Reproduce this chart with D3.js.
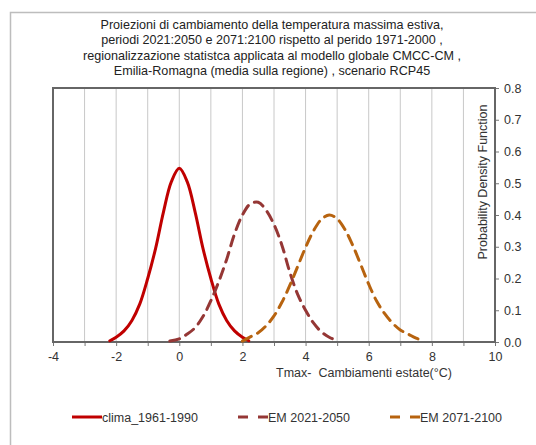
<!DOCTYPE html>
<html><head><meta charset="utf-8">
<script src="https://cdn.jsdelivr.net/npm/d3@7/dist/d3.min.js"></script>
<style>body{margin:0;background:#fff}svg{display:block;font-family:"Liberation Sans",Arial,sans-serif}</style>
</head><body><svg id="c" width="536" height="445"></svg>
<script>
const titleLines = [
  "Proiezioni di cambiamento della temperatura massima estiva,",
  "periodi 2021:2050 e 2071:2100 rispetto al perido 1971-2000 ,",
  "regionalizzazione statistca applicata al modello globale CMCC-CM ,",
  "Emilia-Romagna (media sulla regione) , scenario RCP45"
];
const xTicks = [-4,-2,0,2,4,6,8,10];
const yTicks = [0,0.1,0.2,0.3,0.4,0.5,0.6,0.7,0.8];
const seriesNames = ["clima_1961-1990","EM 2021-2050","EM 2071-2100"];
const climaX = [-2.2,-2,-1.75,-1.5,-1.25,-1,-0.75,-0.5,-0.25,0,0.25,0.5,0.75,1,1.25,1.5,1.75,2,2.2];
const climaY = [0.004,0.015,0.035,0.068,0.12,0.20,0.295,0.41,0.505,0.547,0.505,0.41,0.295,0.20,0.12,0.068,0.035,0.015,0.004];
const em1X = [-0.3,0,0.25,0.5,0.75,1,1.25,1.5,1.75,2,2.25,2.5,2.75,3,3.25,3.5,3.75,4,4.25,4.5,4.75,5];
const em1Y = [0.003,0.01,0.025,0.045,0.08,0.13,0.19,0.26,0.34,0.40,0.435,0.44,0.415,0.37,0.305,0.22,0.15,0.10,0.06,0.032,0.015,0.004];
const em2X = [2,2.25,2.5,2.75,3,3.25,3.5,3.75,4,4.25,4.5,4.75,5,5.25,5.5,5.75,6,6.25,6.5,6.75,7,7.25,7.5,7.75];
const em2Y = [0.003,0.016,0.029,0.051,0.082,0.125,0.178,0.238,0.298,0.35,0.386,0.40,0.388,0.354,0.303,0.243,0.182,0.129,0.09,0.06,0.038,0.025,0.012,0.003];

const svg = d3.select("#c");
svg.append("rect").attr("x",10.5).attr("y",12.5).attr("width",540).attr("height",450)
  .attr("fill","#fff").attr("stroke","#bdbdbd").attr("stroke-width",1.5);

const L=53,R=495,T=88,B=342;
const x = d3.scaleLinear().domain([-4,10]).range([L,R]);
const y = d3.scaleLinear().domain([0,0.8]).range([B,T]);

const tt = svg.append("text").attr("text-anchor","middle").attr("font-size",12.6).attr("fill","#222");
titleLines.forEach((t,i)=>tt.append("tspan").attr("x",272).attr("y",29+i*15.3).text(t));

svg.append("g").selectAll("line").data(d3.range(-3,10)).join("line")
  .attr("x1",d=>x(d)).attr("x2",d=>x(d)).attr("y1",T).attr("y2",B)
  .attr("stroke","#c8c8c8").attr("stroke-width",1);

const xa = svg.append("g").attr("transform",`translate(0,${B})`)
  .call(d3.axisBottom(x).tickValues(d3.range(-4,11)).tickSize(4).tickFormat(d=>xTicks.includes(d)?d:""));
xa.select(".domain").remove();
xa.selectAll("line").attr("stroke","#777");
xa.selectAll("text").attr("font-size",12.5).attr("fill","#333").attr("dy","0.95em").attr("font-family","Liberation Sans, Arial");

const ya = svg.append("g").attr("transform",`translate(${R},0)`)
  .call(d3.axisRight(y).tickValues(yTicks).tickSize(4).tickFormat(d3.format(".1f")));
ya.select(".domain").remove();
ya.selectAll("line").attr("stroke","#777");
ya.selectAll("text").attr("font-size",12.5).attr("fill","#333").attr("x",9).attr("font-family","Liberation Sans, Arial");

svg.append("rect").attr("x",L).attr("y",T).attr("width",R-L).attr("height",B-T)
  .attr("fill","none").attr("stroke","#666").attr("stroke-width",2);

svg.append("text").attr("x",364).attr("y",377).attr("text-anchor","middle").attr("font-size",12.5).attr("fill","#333")
  .attr("xml:space","preserve").style("white-space","pre")
  .text("Tmax-  Cambiamenti estate(°C)");
svg.append("text").attr("transform",`translate(487,182) rotate(-90)`).attr("text-anchor","middle")
  .attr("font-size",12.5).attr("fill","#333").text("Probability Density Function");

const line = d3.line().x(d=>x(d[0])).y(d=>y(d[1])).curve(d3.curveCatmullRom);
const series = [
  {xs:climaX, ys:climaY, color:"#C00000", dash:null},
  {xs:em1X, ys:em1Y, color:"#953735", dash:"10,7"},
  {xs:em2X, ys:em2Y, color:"#B7630F", dash:"10,7"}
];
series.forEach(s=>{
  svg.append("path").datum(s.xs.map((v,i)=>[v,s.ys[i]]))
    .attr("d",line).attr("fill","none").attr("stroke",s.color).attr("stroke-width",3)
    .attr("stroke-linecap","round").attr("stroke-dasharray",s.dash);
});

const legX = [72,238,390];
series.forEach((s,i)=>{
  const g = svg.append("g");
  if(s.dash){
    g.append("line").attr("x1",legX[i]).attr("x2",legX[i]+10).attr("y1",417).attr("y2",417).attr("stroke",s.color).attr("stroke-width",3);
    g.append("line").attr("x1",legX[i]+20).attr("x2",legX[i]+30).attr("y1",417).attr("y2",417).attr("stroke",s.color).attr("stroke-width",3);
  } else {
    g.append("line").attr("x1",legX[i]).attr("x2",legX[i]+30).attr("y1",417).attr("y2",417).attr("stroke",s.color).attr("stroke-width",3);
  }
  g.append("text").attr("x",legX[i]+30).attr("y",421.5).attr("font-size",12.5).attr("fill","#333").text(seriesNames[i]);
});
</script></body></html>
